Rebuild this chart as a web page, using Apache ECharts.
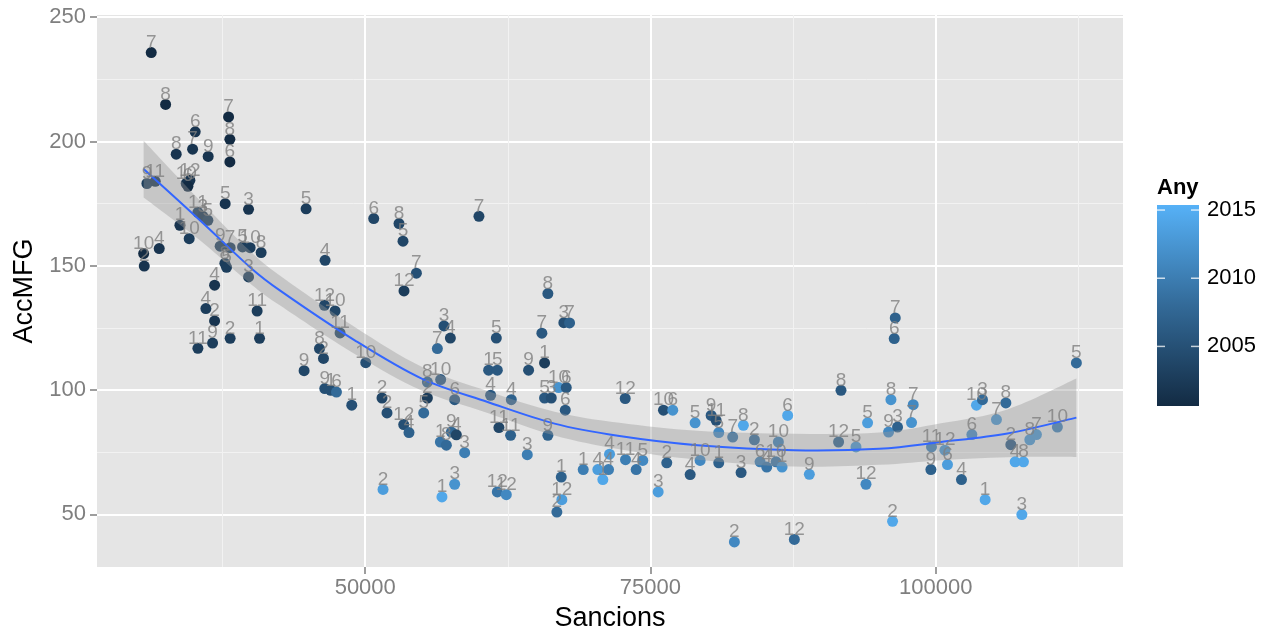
<!DOCTYPE html>
<html>
<head>
<meta charset="utf-8">
<script src="https://cdn.jsdelivr.net/npm/echarts@6/dist/echarts.min.js"></script>
<style>
  html, body { margin: 0; padding: 0; background: #fff; }
  #chart { width: 1273px; height: 635px; }
</style>
</head>
<body>
<div id="chart"></div>
<script>
// punts: Sancions, AccMFG, any i mes (etiqueta)
const sancions = [
  31243, 32503, 35096, 34868, 33432, 36234, 38020, 38134, 38134, 30866,
  31593, 34307, 34631, 34457, 37723, 39772, 44816, 33756, 35332, 35770,
  36208, 34570, 30577, 31943, 30630, 37285, 38160, 39246, 39912, 40875,
  37697, 37845, 39772, 36796, 46480, 36033, 36796, 40525, 35332, 36620,
  38160, 40735, 46427, 47355, 47793, 45989, 46340, 44641, 46453, 46979,
  47478, 48818,
  50744, 52960, 53310, 59966, 54484, 53398, 66008, 56901, 57461, 61489,
  65482, 67409, 67908, 56322, 50044, 51471, 51909, 53372, 53836, 55447,
  56612, 55447, 55123, 57838, 56586, 57111, 57549, 57987, 58714, 51559,
  57838, 56725, 60815, 61577, 64317, 65718, 60990, 62803, 61717, 62741,
  64203, 61577, 62365, 65718, 66306, 66945, 67620, 67533, 66008, 67183,
  67234, 66796, 69107, 70387, 70825, 71324, 71411,
  72786, 72812, 74327, 73749, 75675, 76140, 76954, 76429, 78914, 79352,
  80985, 78479, 80318, 80756, 80985, 82208, 83146, 82944, 84108, 84607,
  85191, 86213, 86010, 86535, 87024, 82356, 87612, 88926, 91700, 91490,
  93014, 94030, 93890,
  96455, 96367, 96078, 98031, 97883, 95869, 96657, 99634, 100807, 99581,
  101035, 102261, 96219, 103172, 104336, 103575, 104101, 106150, 105326, 106587,
  106963, 107693, 107552, 108252, 108830, 110668, 112332
];
const accMFG = [
  235.8, 214.9, 203.9, 196.9, 194.9, 194.0, 209.9, 200.9, 191.8, 183.1,
  184.0, 183.1, 184.4, 182.0, 175.0, 172.7, 172.9, 166.3, 171.5, 169.9,
  168.3, 160.9, 154.9, 156.9, 149.9, 157.9, 157.3, 157.6, 157.3, 155.3,
  151.0, 149.4, 145.5, 142.2, 152.2, 132.8, 127.8, 131.8, 116.8, 118.9,
  120.8, 120.8, 134.1, 131.8, 123.0, 116.7, 112.7, 107.8, 100.6, 99.9,
  99.2, 93.9,
  169.0, 167.0, 159.9, 169.9, 147.0, 139.9, 138.8, 125.8, 120.9, 120.9,
  122.9, 127.1, 127.0, 116.7, 111.0, 96.8, 90.8, 86.1, 82.9, 103.2,
  104.2, 96.8, 90.8, 96.1, 79.1, 77.8, 83.1, 82.0, 74.8, 60.0,
  62.1, 57.0, 108.0, 108.0, 108.0, 110.9, 97.9, 96.1, 84.9, 81.8,
  74.0, 59.0, 57.9, 96.8, 96.8, 101.0, 101.0, 91.9, 81.8, 65.0,
  55.9, 50.9, 68.0, 68.0, 64.0, 68.0, 74.2,
  96.6, 72.0, 71.7, 68.0, 59.0, 91.9, 91.9, 70.7, 86.8, 71.7,
  70.7, 66.0, 89.8, 87.8, 82.9, 81.1, 85.8, 66.8, 80.0, 71.1,
  69.0, 79.1, 71.1, 69.0, 89.8, 38.9, 39.9, 66.1, 99.9, 79.1,
  77.1, 86.8, 62.1,
  129.0, 120.7, 96.1, 94.1, 86.9, 83.1, 85.1, 77.1, 75.8, 68.0,
  70.0, 64.0, 47.2, 82.1, 55.9, 93.9, 96.1, 94.8, 88.1, 78.0,
  71.1, 71.1, 49.9, 80.0, 82.1, 85.1, 110.9
];
const anys = [
  2001, 2001, 2002, 2002, 2002, 2002, 2001, 2001, 2001, 2003,
  2002, 2002, 2002, 2001, 2002, 2002, 2003, 2002, 2003, 2002,
  2003, 2003, 2001, 2002, 2002, 2003, 2003, 2003, 2003, 2003,
  2003, 2003, 2003, 2002, 2004, 2003, 2002, 2003, 2003, 2003,
  2003, 2003, 2004, 2004, 2004, 2004, 2004, 2004, 2005, 2005,
  2008, 2005,
  2004, 2004, 2004, 2004, 2005, 2003, 2006, 2005, 2004, 2005,
  2006, 2005, 2007, 2008, 2005, 2004, 2005, 2005, 2007, 2007,
  2006, 2003, 2008, 2006, 2009, 2008, 2008, 2004, 2010, 2013,
  2012, 2014, 2006, 2006, 2005, 2003, 2006, 2007, 2004, 2007,
  2010, 2009, 2011, 2006, 2005, 2012, 2006, 2006, 2007, 2007,
  2013, 2008, 2010, 2013, 2014, 2010, 2013,
  2006, 2010, 2011, 2009, 2013, 2005, 2012, 2007, 2012, 2011,
  2007, 2006, 2006, 2005, 2011, 2009, 2014, 2006, 2008, 2010,
  2009, 2010, 2009, 2012, 2014, 2011, 2008, 2013, 2006, 2007,
  2012, 2013, 2011,
  2007, 2007, 2012, 2011, 2012, 2011, 2007, 2010, 2012, 2007,
  2013, 2007, 2014, 2011, 2014, 2014, 2008, 2008, 2012, 2006,
  2014, 2014, 2014, 2012, 2012, 2010, 2008
];
const mesos = [
  7, 8, 6, 7, 8, 9, 7, 8, 6, 9,
  11, 10, 12, 6, 5, 3, 5, 1, 11, 3,
  5, 10, 10, 4, 2, 9, 7, 5, 10, 8,
  8, 5, 3, 4, 4, 4, 2, 11, 11, 9,
  2, 1, 12, 10, 11, 8, 2, 9, 9, 1,
  6, 1,
  6, 8, 5, 7, 7, 12, 8, 3, 4, 5,
  7, 3, 7, 7, 10, 2, 2, 12, 4, 8,
  10, 2, 5, 6, 1, 8, 9, 4, 3, 2,
  3, 1, 1, 5, 9, 1, 4, 4, 11, 11,
  3, 12, 12, 5, 3, 10, 6, 6, 9, 1,
  12, 2, 1, 4, 1, 4, 4,
  12, 11, 5, 4, 3, 10, 6, 2, 5, 10,
  1, 4, 9, 11, 5, 7, 8, 3, 2, 6,
  4, 10, 10, 1, 6, 2, 12, 9, 8, 12,
  5, 5, 12,
  7, 6, 8, 7, 7, 9, 3, 11, 12, 9,
  6, 4, 2, 6, 1, 10, 3, 8, 7, 2,
  4, 8, 3, 8, 7, 10, 5
];

// corba loess i interval de confiança
const fitX = [30577, 35507, 39886, 42513, 49080, 54948, 60727, 66594, 72286, 79117, 87612, 95055, 100458, 106290, 112332];
const fitY = [188.9, 168.3, 149.5, 140.1, 120.0, 104.6, 95.2, 86.5, 81.5, 77.8, 75.8, 76.4, 79.1, 82.5, 88.9];
const bandLow = [177.5, 160.3, 143.0, 134.1, 114.5, 99.8, 90.8, 81.7, 76.2, 72.0, 69.2, 69.9, 71.8, 73.0, 73.1];
const bandHigh = [200.3, 176.3, 156.0, 146.1, 125.4, 109.4, 99.6, 91.3, 86.8, 83.6, 82.4, 82.9, 86.6, 92.2, 104.6];

// eixos
const xTicks = [50000, 75000, 100000];
const xMinor = [37500, 62500, 87500, 112500];
const yTicks = [50, 100, 150, 200, 250];
const yMinor = [75, 125, 175, 225];
const anyTicks = [2005, 2010, 2015];

const FONT = "'Liberation Sans', Arial, Helvetica, sans-serif";
const xMin = 26489, xMax = 116418, yMin = 28.8, yMax = 250.9;

const punts = sancions.map((x, i) => [x, accMFG[i], anys[i], mesos[i]]);

// spline (Catmull-Rom) en coordenades de pantalla
function splinePath(pts) {
  let d = '';
  for (let i = 0; i < pts.length - 1; i++) {
    const p0 = pts[i - 1] || pts[i], p1 = pts[i], p2 = pts[i + 1], p3 = pts[i + 2] || pts[i + 1];
    const c1 = [p1[0] + (p2[0] - p0[0]) / 6, p1[1] + (p2[1] - p0[1]) / 6];
    const c2 = [p2[0] - (p3[0] - p1[0]) / 6, p2[1] - (p3[1] - p1[1]) / 6];
    d += ' C' + c1[0] + ',' + c1[1] + ' ' + c2[0] + ',' + c2[1] + ' ' + p2[0] + ',' + p2[1];
  }
  return d;
}

// llegenda (colorbar) a la ggplot
const barTop = 205, barH = 201, barX = 1157, barW = 42;
const barLo = 2000.63, barHi = 2015.37;
const barY = v => barTop + (barHi - v) / (barHi - barLo) * barH;
const legendEls = [
  { type: 'text', x: barX, y: 188, style: { text: 'Any', font: 'bold 22px ' + FONT, fill: '#000', align: 'left', verticalAlign: 'middle', textAlign: 'left', textVerticalAlign: 'middle' } },
  { type: 'rect', shape: { x: barX, y: barTop, width: barW, height: barH },
    style: { fill: new echarts.graphic.LinearGradient(0, 0, 0, 1, [
      { offset: 0, color: '#56B1F7' }, { offset: 0.5, color: '#336A98' }, { offset: 1, color: '#132B43' }
    ]) } }
];
anyTicks.forEach(v => {
  const y = barY(v);
  legendEls.push({ type: 'line', shape: { x1: barX, y1: y, x2: barX + 8, y2: y }, style: { stroke: 'rgba(255,255,255,0.75)', lineWidth: 1.5 } });
  legendEls.push({ type: 'line', shape: { x1: barX + barW - 8, y1: y, x2: barX + barW, y2: y }, style: { stroke: 'rgba(255,255,255,0.75)', lineWidth: 1.5 } });
  legendEls.push({ type: 'text', x: barX + barW + 8, y: y, style: { text: String(v), font: '22px ' + FONT, fill: '#000', align: 'left', verticalAlign: 'middle', textAlign: 'left', textVerticalAlign: 'middle' } });
});

const chart = echarts.init(document.getElementById('chart'), null, { renderer: 'canvas' });
chart.setOption({
  animation: false,
  textStyle: { fontFamily: FONT },
  grid: { left: 97, right: 150, top: 15, bottom: 68, show: true, backgroundColor: '#E5E5E5', borderWidth: 0 },
  xAxis: [{
    type: 'value', min: xMin, max: xMax,
    axisLine: { show: false },
    axisTick: { show: true, length: 7, customValues: xTicks, lineStyle: { color: '#7F7F7F', width: 1.5 } },
    axisLabel: { customValues: xTicks, color: '#7F7F7F', fontSize: 22, margin: 10, formatter: v => String(v) },
    splitLine: { show: true, lineStyle: { color: '#FFFFFF', width: 2 } }
  }, {
    type: 'value', min: xMin, max: xMax, position: 'bottom',
    axisLine: { show: false }, axisLabel: { show: false },
    axisTick: { show: false, customValues: xMinor },
    splitLine: { show: true, lineStyle: { color: '#F2F2F2', width: 1 } }
  }],
  yAxis: [{
    type: 'value', min: yMin, max: yMax,
    axisLine: { show: false },
    axisTick: { show: true, length: 7, customValues: yTicks, lineStyle: { color: '#7F7F7F', width: 1.5 } },
    axisLabel: { customValues: yTicks, color: '#7F7F7F', fontSize: 22, margin: 11, formatter: v => String(v) },
    splitLine: { show: true, lineStyle: { color: '#FFFFFF', width: 2 } }
  }, {
    type: 'value', min: yMin, max: yMax, position: 'left',
    axisLine: { show: false }, axisLabel: { show: false },
    axisTick: { show: false, customValues: yMinor },
    splitLine: { show: true, lineStyle: { color: '#F2F2F2', width: 1 } }
  }],
  visualMap: {
    show: false, type: 'continuous', min: 2001, max: 2015, dimension: 2, seriesIndex: 0,
    inRange: { color: ['#132B43', '#336A98', '#56B1F7'] }
  },
  series: [{
    name: 'punts', type: 'scatter', data: punts, symbolSize: 11, z: 2, silent: true,
    itemStyle: { opacity: 1 }
  }, {
    name: 'loess', type: 'custom', coordinateSystem: 'cartesian2d', z: 3, silent: true,
    data: [[fitX[0], fitY[0]]],
    renderItem: (params, api) => {
      const up = fitX.map((x, i) => api.coord([x, bandHigh[i]]));
      const lo = fitX.map((x, i) => api.coord([x, bandLow[i]])).reverse();
      const mid = fitX.map((x, i) => api.coord([x, fitY[i]]));
      const band = 'M' + up[0][0] + ',' + up[0][1] + splinePath(up) +
        ' L' + lo[0][0] + ',' + lo[0][1] + splinePath(lo) + ' Z';
      const line = 'M' + mid[0][0] + ',' + mid[0][1] + splinePath(mid);
      return {
        type: 'group',
        children: [
          { type: 'path', shape: { pathData: band }, style: { fill: 'rgba(153,153,153,0.4)', stroke: null } },
          { type: 'path', shape: { pathData: line }, style: { fill: null, stroke: '#3366FF', lineWidth: 2 } }
        ]
      };
    }
  }, {
    name: 'etiquetes', type: 'scatter', data: punts, symbolSize: 11, z: 5, silent: true,
    itemStyle: { color: 'rgba(0,0,0,0)' },
    label: {
      show: true, position: 'inside', offset: [0, -10], fontSize: 19, color: '#808080',
      textBorderWidth: 0, formatter: p => String(p.value[3])
    }
  }],
  graphic: [
    { type: 'text', x: 610, y: 619, style: { text: 'Sancions', font: '27px ' + FONT, fill: '#000', align: 'center', verticalAlign: 'middle', textAlign: 'center', textVerticalAlign: 'middle' } },
    { type: 'text', x: 25, y: 291, rotation: Math.PI / 2, style: { text: 'AccMFG', font: '27px ' + FONT, fill: '#000', align: 'center', verticalAlign: 'middle', textAlign: 'center', textVerticalAlign: 'middle' } }
  ].concat(legendEls)
});
</script>
</body>
</html>
